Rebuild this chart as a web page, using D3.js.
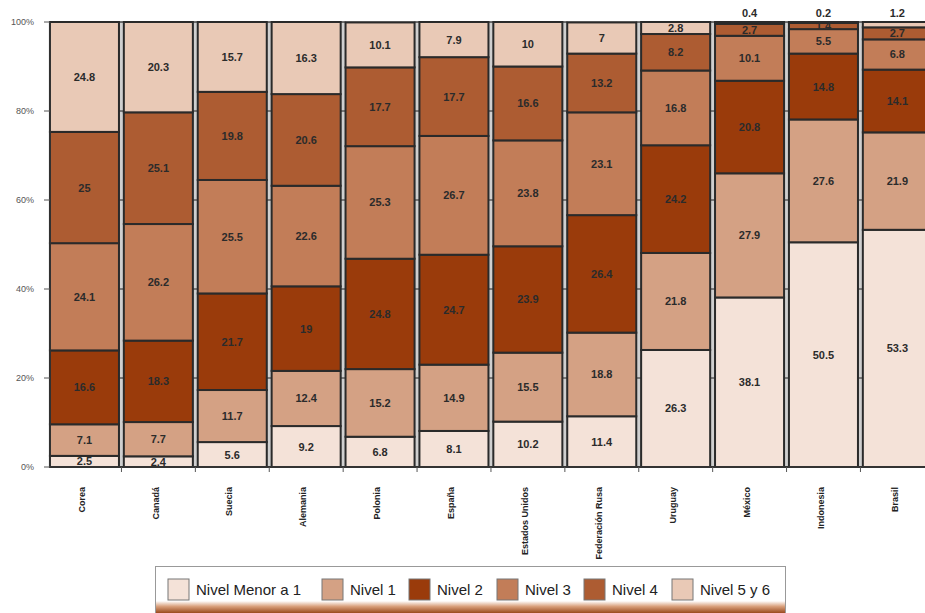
<!DOCTYPE html>
<html>
<head>
<meta charset="utf-8">
<script src="https://cdn.jsdelivr.net/npm/d3@7"></script>
<style>
  body { margin: 0; background: #fff; }
  svg { display: block; font-family: Arial, "Liberation Sans", sans-serif; }
</style>
</head>
<body>
<svg width="925" height="613"></svg>
<script>
var svg = d3.select("svg");

// data, bottom segment first
var countries = ["Corea", "Canadá", "Suecia", "Alemania", "Polonia", "España",
  "Estados Unidos", "Federación Rusa", "Uruguay", "México", "Indonesia", "Brasil"];
var levels = ["Nivel Menor a 1", "Nivel 1", "Nivel 2", "Nivel 3", "Nivel 4", "Nivel 5 y 6"];
var menor1 = [2.5, 2.4, 5.6, 9.2, 6.8, 8.1, 10.2, 11.4, 26.3, 38.1, 50.5, 53.3];
var nivel1 = [7.1, 7.7, 11.7, 12.4, 15.2, 14.9, 15.5, 18.8, 21.8, 27.9, 27.6, 21.9];
var nivel2 = [16.6, 18.3, 21.7, 19, 24.8, 24.7, 23.9, 26.4, 24.2, 20.8, 14.8, 14.1];
var nivel3 = [24.1, 26.2, 25.5, 22.6, 25.3, 26.7, 23.8, 23.1, 16.8, 10.1, 5.5, 6.8];
var nivel4 = [25, 25.1, 19.8, 20.6, 17.7, 17.7, 16.6, 13.2, 8.2, 2.7, 1.4, 2.7];
var nivel56 = [24.8, 20.3, 15.7, 16.3, 10.1, 7.9, 10, 7, 2.8, 0.4, 0.2, 1.2];
var yTicks = [0, 20, 40, 60, 80, 100];

var series = [menor1, nivel1, nivel2, nivel3, nivel4, nivel56];
var colors = ["#f4e2d8", "#d4a184", "#9a3b0b", "#c27d58", "#ad5c32", "#e9c9b6"];

var plotTop = 22, plotBottom = 467, plotLeft = 50;

var x = d3.scaleBand().domain(countries)
  .range([47.5, 47.5 + 12 * 73.9])
  .paddingInner(0.066).paddingOuter(0.033);
var y = d3.scaleLinear().domain([0, 100]).range([plotBottom, plotTop]);

// build stacked segments
var segs = [];
countries.forEach(function(c, i) {
  var acc = 0;
  series.forEach(function(s, k) {
    segs.push({ country: c, level: k, v: s[i], y0: acc, y1: Math.min(acc + s[i], 100) });
    acc += s[i];
  });
});

// gray separators between bars
var gaps = countries.slice(1).map(function(c, i) {
  return { x0: x(countries[i]) + x.bandwidth(), x1: x(c) };
});
svg.selectAll(".gap").data(gaps).enter().append("rect")
  .attr("x", function(d) { return d.x0; })
  .attr("y", plotTop)
  .attr("width", function(d) { return d.x1 - d.x0; })
  .attr("height", plotBottom - plotTop)
  .attr("fill", "#cfcfcf")
  .attr("stroke", "#8a8a8a")
  .attr("stroke-width", 1);

// gridlines (only show in the gaps)
svg.selectAll(".grid").data(yTicks).enter().append("line")
  .attr("x1", plotLeft).attr("x2", 925)
  .attr("y1", function(d) { return y(d); })
  .attr("y2", function(d) { return y(d); })
  .attr("stroke", "#222").attr("stroke-width", 1);

// bars
svg.selectAll(".seg").data(segs).enter().append("rect")
  .attr("x", function(d) { return x(d.country); })
  .attr("width", x.bandwidth())
  .attr("y", function(d) { return y(d.y1); })
  .attr("height", function(d) { return y(d.y0) - y(d.y1); })
  .attr("fill", function(d) { return colors[d.level]; })
  .attr("stroke", "#2a2a2a")
  .attr("stroke-width", 2);

// value labels
svg.selectAll(".val").data(segs).enter().append("text")
  .attr("x", function(d) { return x(d.country) + x.bandwidth() / 2; })
  .attr("y", function(d) {
    if (d.level == 5 && d.v < 1.3) return 17;
    return (y(d.y0) + y(d.y1)) / 2 + 4;
  })
  .attr("text-anchor", "middle")
  .attr("font-size", 11)
  .attr("font-weight", "bold")
  .attr("fill", "#2b2b2b")
  .text(function(d) { return d.v; });

// axes
svg.append("line").attr("x1", plotLeft).attr("x2", plotLeft).attr("y1", plotTop).attr("y2", plotBottom)
  .attr("stroke", "#333").attr("stroke-width", 1.5);
svg.append("line").attr("x1", plotLeft).attr("x2", 925).attr("y1", plotBottom).attr("y2", plotBottom)
  .attr("stroke", "#333").attr("stroke-width", 2);
svg.selectAll(".ytick").data(yTicks).enter().append("line")
  .attr("x1", 44).attr("x2", plotLeft)
  .attr("y1", function(d) { return y(d); })
  .attr("y2", function(d) { return y(d); })
  .attr("stroke", "#555");
svg.selectAll(".ylab").data(yTicks).enter().append("text")
  .attr("x", 34)
  .attr("y", function(d) { return y(d) + 3; })
  .attr("text-anchor", "end")
  .attr("font-size", 9)
  .attr("fill", "#555")
  .text(function(d) { return d + "%"; });

// x ticks at band boundaries
svg.selectAll(".xtick").data(countries).enter().append("line")
  .attr("x1", function(d) { return x(d) + x.bandwidth() + 2.5; })
  .attr("x2", function(d) { return x(d) + x.bandwidth() + 2.5; })
  .attr("y1", plotBottom).attr("y2", plotBottom + 5)
  .attr("stroke", "#555");

// country labels
svg.selectAll(".xlab").data(countries).enter().append("text")
  .attr("transform", function(d) {
    return "translate(" + (x(d) + x.bandwidth() / 2 - 3) + ",487) rotate(-90)";
  })
  .attr("dy", "0.35em")
  .attr("text-anchor", "end")
  .attr("font-size", 9)
  .attr("font-weight", "bold")
  .attr("fill", "#222")
  .text(function(d) { return d; });

// legend
var defs = svg.append("defs");
var grad = defs.append("linearGradient").attr("id", "lg")
  .attr("x1", 0).attr("y1", 0).attr("x2", 0).attr("y2", 1);
grad.append("stop").attr("offset", "0%").attr("stop-color", "#ffffff");
grad.append("stop").attr("offset", "45%").attr("stop-color", "#d9a07c");
grad.append("stop").attr("offset", "100%").attr("stop-color", "#9a4a1e");

svg.append("rect").attr("x", 155.5).attr("y", 566.5).attr("width", 630).attr("height", 46)
  .attr("fill", "#fff").attr("stroke", "#999");
svg.append("rect").attr("x", 156).attr("y", 601).attr("width", 629).attr("height", 12)
  .attr("fill", "url(#lg)");

var legX = [168, 322, 409, 497, 584, 672];
var leg = svg.selectAll(".leg").data(levels).enter().append("g")
  .attr("transform", function(d, i) { return "translate(" + legX[i] + ",579)"; });
leg.append("rect").attr("width", 21).attr("height", 21)
  .attr("fill", function(d, i) { return colors[i]; })
  .attr("stroke", "#777");
leg.append("text").attr("x", 28).attr("y", 16)
  .attr("font-size", 15).attr("fill", "#222")
  .text(function(d) { return d; });
</script>
</body>
</html>
